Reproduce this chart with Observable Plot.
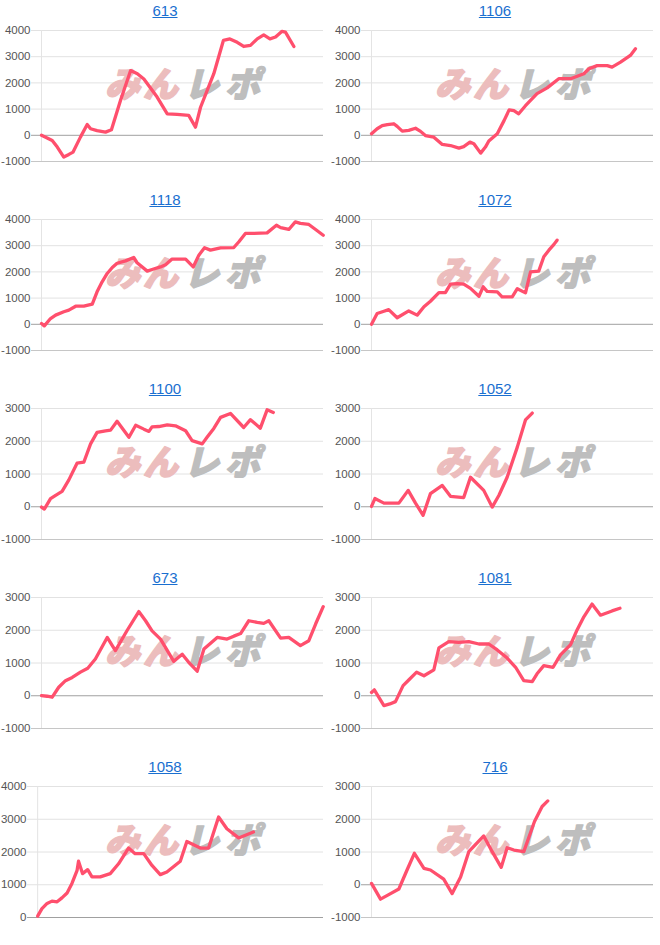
<!DOCTYPE html>
<html><head><meta charset="utf-8">
<script src="https://cdn.jsdelivr.net/npm/d3@7"></script>
<script src="https://cdn.jsdelivr.net/npm/@observablehq/plot@0.6"></script>
<style>
body{margin:0;background:#fff;font-family:Arial,"Liberation Sans",sans-serif;}
#grid{display:grid;grid-template-columns:330px 330px;width:660px;}
.panel{width:330px;height:189px;overflow:hidden;}
.title{height:22px;line-height:22px;text-align:center;font-size:15px;}
.title a{color:#1a6fd0;text-decoration:underline;}
svg{display:block;}
</style></head><body><div id="grid"></div>
<script>
// chart titles
const titles = ["613","1106","1118","1072","1100","1052","673","1081","1058","716"];
// y tick sets
const ticksA = [-1000,0,1000,2000,3000,4000];
const ticksB = [-1000,0,1000,2000,3000];
const ticksC = [0,1000,2000,3000,4000];
// watermark glyphs
const wmGlyphs = ["み","ん","レ","ポ"];
// series: [day, value]
const s613 = [[0,0],[2,-100],[3.8,-200],[5.6,-450],[7.9,-830],[9.7,-730],[11.2,-640],[13.8,-70],[16.2,410],[17.4,250],[19.7,180],[22.7,120],[24.8,210],[28,1330],[31.6,2470],[34,2350],[36.3,2150],[41,1460],[44.6,820],[48.1,800],[52.2,760],[54.6,310],[56.4,1070],[61.1,2350],[64.5,3620],[66.8,3680],[69.4,3550],[71.7,3390],[74.1,3430],[76.5,3680],[78.8,3830],[81,3680],[83,3750],[85.3,3970],[86.5,3940],[89.5,3390]];
const s1106 = [[0,60],[2,250],[3.8,370],[5.6,410],[7.9,440],[9.1,340],[10.9,160],[13.2,190],[15.6,270],[17.4,150],[19.1,-10],[22.1,-70],[25.1,-350],[28,-390],[31,-490],[32.7,-430],[34.9,-260],[36.3,-320],[38.7,-680],[40.4,-450],[41.6,-220],[44.6,60],[47,560],[48.8,970],[50.5,940],[52.2,820],[54.6,1130],[58.7,1590],[62.3,1810],[66.4,2160],[70.6,2160],[75.3,2350],[77.1,2540],[80,2660],[83.6,2660],[85.3,2600],[88.3,2790],[91.8,3050],[93.6,3300]];
const s1118 = [[0,30],[1,-60],[3.2,220],[5,350],[7.9,480],[9.7,540],[12.1,690],[15,690],[18,770],[19.7,1240],[21.5,1620],[23.3,1940],[25.1,2170],[26.8,2330],[29.8,2420],[32.7,2550],[33.9,2350],[37.5,2030],[39.2,2090],[42.2,2190],[44,2270],[46.3,2490],[51.1,2490],[53.8,2190],[55.8,2640],[57.8,2920],[59.9,2830],[63.5,2920],[68.2,2930],[70,3150],[72.3,3470],[75.3,3470],[80,3490],[83.3,3780],[84.8,3690],[87.7,3620],[90,3910],[91.8,3850],[94.8,3810],[97.2,3620],[99.9,3400]];
const s1072 = [[0,5],[2,410],[4.4,500],[6.1,560],[9.1,250],[13.2,510],[16.2,350],[18.6,670],[20.9,880],[23.9,1210],[26.2,1210],[28,1530],[30.5,1550],[32.7,1530],[35.1,1370],[38.1,1070],[39.6,1430],[41,1260],[44.6,1240],[46.3,1050],[49.9,1050],[51.7,1360],[54.6,1200],[56.4,2000],[59.3,2030],[61.1,2580],[62.9,2830],[64.7,3050],[65.8,3210]];
const s1100 = [[0,-10],[1,-70],[3.2,250],[5,350],[7.3,470],[9.7,820],[12.6,1330],[15,1360],[17.4,1920],[19.7,2270],[22.7,2320],[24.5,2340],[26.8,2610],[31,2120],[33.4,2490],[36.3,2370],[38.1,2300],[39.2,2440],[41.6,2450],[44.6,2500],[47.5,2470],[51.1,2320],[53.4,2020],[57,1920],[58.7,2120],[61.1,2390],[63.5,2730],[67,2850],[71.7,2420],[74.1,2660],[77.6,2400],[80,2960],[82.2,2880]];
const s1052 = [[0,10],[1.2,250],[4.4,110],[9.7,110],[13,500],[15.6,110],[18.3,-260],[20.9,400],[25.1,650],[28,320],[32.7,280],[35.1,900],[39.8,500],[42.8,-10],[45.2,350],[48.1,900],[51.7,1820],[54.6,2650],[57,2860]];
const s673 = [[0,5],[2,-15],[3.8,-45],[6.1,260],[8.5,460],[10.9,560],[13.8,720],[16.4,840],[19.1,1120],[23.3,1780],[26.2,1380],[30.4,2000],[34.5,2570],[36.9,2290],[39.2,1980],[42.2,1730],[46.9,1050],[49.9,1270],[52.2,1020],[55.2,750],[57.6,1430],[62.3,1780],[65.8,1730],[68.2,1820],[70.6,1900],[73.5,2290],[76.5,2240],[78.8,2210],[80.6,2290],[84.8,1760],[87.7,1780],[91.8,1530],[94.8,1680],[97.2,2190],[99.9,2720]];
const s1081 = [[0,100],[1,180],[4.4,-300],[6.5,-250],[8.5,-180],[11.2,310],[13.2,480],[16,720],[18.6,610],[22.1,790],[23.9,1460],[27.4,1650],[30.9,1630],[34.5,1650],[38.1,1580],[41.6,1580],[44.6,1400],[48.1,1150],[51.1,870],[54,460],[57,430],[58.7,670],[61.1,920],[64.4,870],[67,1250],[70.6,1560],[72.9,2010],[75.3,2410],[78.2,2800],[81.2,2460],[85.3,2590],[88.1,2670]];
const s1058 = [[0,40],[1.5,270],[3.3,430],[5,500],[6.8,480],[8.5,600],[10.3,750],[12,1040],[13.8,1440],[14.3,1720],[15.7,1340],[17.5,1460],[19,1240],[21.9,1240],[25.4,1340],[28.3,1640],[31.8,2120],[34.1,1950],[37.1,1950],[40,1590],[42.9,1310],[45.2,1390],[49.9,1720],[52.2,2320],[56.9,2120],[59.8,2120],[63.3,3070],[66.2,2710],[70.3,2430],[75.5,2610]];
const s716 = [[0,40],[3.2,-440],[6.1,-300],[9.7,-130],[12.6,450],[15.2,960],[18.6,500],[20.9,450],[25.6,170],[28.6,-270],[31.6,240],[34.5,1010],[39.8,1490],[42.8,1010],[46,530],[48.1,1130],[50.5,1060],[54,1010],[57.8,1930],[60.5,2390],[62.5,2560]];

const seriesList = [s613,s1106,s1118,s1072,s1100,s1052,s673,s1081,s1058,s716];
const tickList = [ticksA,ticksA,ticksA,ticksA,ticksB,ticksB,ticksB,ticksB,ticksC,ticksB];

function chart(series, ticks){
  const y0 = ticks[0], y1 = ticks[ticks.length-1];
  const ml = y0 < 0 ? 31 : 27;
  const data = series.map(([x,y]) => ({x, y}));
  const wmX = [122, 160, 201, 242];
  const wmFill = ["#ecbdbd","#ecbdbd","#bebebe","#bebebe"];
  const wmMarks = wmGlyphs.map((g, i) => Plot.text([g], {
    frameAnchor:"top-left", dx: wmX[i] - ml, dy: 55, lineAnchor:"middle", textAnchor:"middle",
    fontSize: 35, fontWeight:900, fontStyle:"italic",
    fontFamily:'"Noto Sans CJK JP", sans-serif', text: d => d, fill: wmFill[i],
    stroke: wmFill[i], strokeWidth: 1.5
  }));
  return Plot.plot({
    width:330, height:167, marginTop:8, marginBottom:28, marginLeft:ml, marginRight:7,
    style:{fontFamily:'Arial, "Liberation Sans", sans-serif', fontSize:"11.5px", color:"#444", background:"transparent"},
    x:{domain:[-3.55,100], axis:null},
    y:{domain:[y0,y1], axis:null},
    marks:[
      Plot.ruleY(ticks.filter(t => t !== 0 && t !== y0), {stroke:"#e2e2e2"}),
      Plot.ruleY([y0], {stroke:"#c6c6c6"}),
      Plot.ruleX([0], {stroke:"#e4e4e4"}),
      Plot.ruleY([0], {stroke:"#a0a0a0"}),
      ...wmMarks,
      Plot.line(data, {x:"x", y:"y", stroke:"#ff4f6d", strokeWidth:3.3, strokeLinejoin:"round", strokeLinecap:"round"}),
      Plot.axisY({ticks, tickSize:0, tickPadding:1, label:null, tickFormat: d => String(d), fill:"#555"})
    ]
  });
}

const grid = document.getElementById("grid");
titles.forEach((t, i) => {
  const panel = document.createElement("div");
  panel.className = "panel";
  const title = document.createElement("div");
  title.className = "title";
  const a = document.createElement("a");
  a.href = "#"; a.textContent = t;
  title.appendChild(a);
  panel.appendChild(title);
  panel.appendChild(chart(seriesList[i], tickList[i]));
  grid.appendChild(panel);
});
</script></body></html>
